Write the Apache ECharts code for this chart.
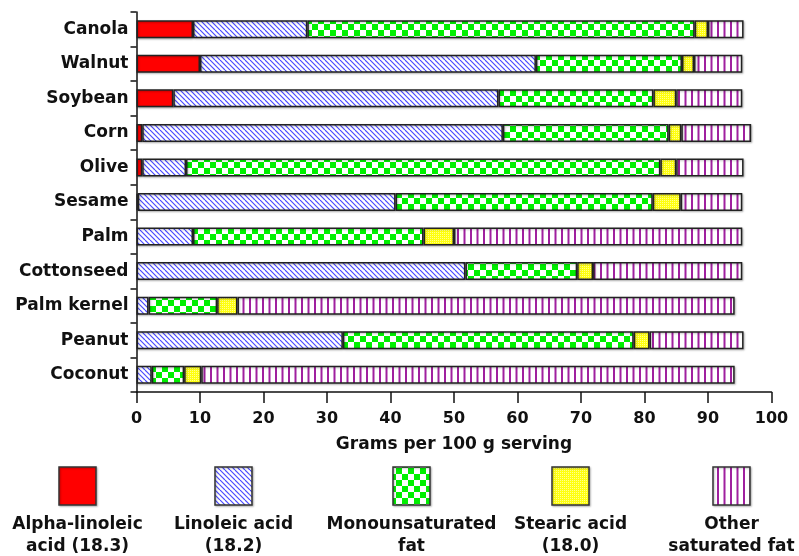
<!DOCTYPE html>
<html>
<head>
<meta charset="utf-8">
<script src="https://cdn.jsdelivr.net/npm/echarts@6/dist/echarts.min.js"></script>
<style>html,body{margin:0;padding:0;background:#fff}#c{width:799px;height:556px}</style>
</head>
<body>
<div id="c"></div>
<script>
// ---- data ----
var categories = ['Canola','Walnut','Soybean','Corn','Olive','Sesame','Palm','Cottonseed','Palm kernel','Peanut','Coconut'];
var alphaLinolenic = [8.9, 10.0, 5.8, 0.9, 0.9, 0.2, 0, 0, 0, 0, 0];
var linoleic       = [18.0, 52.9, 51.2, 56.8, 6.9, 40.6, 8.9, 51.8, 1.9, 32.5, 2.4];
var monounsat      = [61.0, 23.0, 24.4, 26.1, 74.7, 40.5, 36.3, 17.6, 10.8, 45.8, 5.1];
var stearic        = [2.1, 1.9, 3.6, 2.0, 2.5, 4.4, 4.8, 2.5, 3.2, 2.5, 2.7];
var otherSat       = [5.6, 7.6, 10.4, 11.0, 10.6, 9.7, 45.4, 23.5, 78.3, 14.8, 84.0];
var seriesNames = ['Alpha-linoleic\nacid (18.3)', 'Linoleic acid\n(18.2)', 'Monounsaturated\nfat', 'Stearic acid\n(18.0)', 'Other\nsaturated fat'];
var xTicks = [0,10,20,30,40,50,60,70,80,90,100];

var FONT = 'DejaVu Sans';
var FS = 17;

// ---- patterns ----
function mk(w, h, draw) {
  var c = document.createElement('canvas'); c.width = w; c.height = h;
  var g = c.getContext('2d'); draw(g, w, h);
  return { image: c, repeat: 'repeat' };
}
var patRed = '#ff0000';
var patBlue = mk(10, 10, function (g, w, h) {
  g.fillStyle = '#ffffff'; g.fillRect(0, 0, w, h);
  g.strokeStyle = '#4a4aff'; g.lineWidth = 1.2;
  for (var x = -10; x <= 10; x += 5) { g.beginPath(); g.moveTo(x, 0); g.lineTo(x + 10, 10); g.stroke(); }
});
var patGreen = mk(12, 12, function (g) {
  g.fillStyle = '#ffffff'; g.fillRect(0, 0, 12, 12);
  g.fillStyle = '#00f000'; g.fillRect(0, 0, 6, 6); g.fillRect(6, 6, 6, 6);
});
var patYellow = mk(2, 2, function (g) {
  g.fillStyle = '#ffff10'; g.fillRect(0, 0, 2, 2);
  g.fillStyle = '#ffff90'; g.fillRect(0, 0, 1, 1);
});
var patPurple = mk(13, 4, function (g) {
  g.fillStyle = '#ffffff'; g.fillRect(0, 0, 13, 4);
  g.fillStyle = '#a0209f'; g.fillRect(2, 0, 2, 4); g.fillRect(8.5, 0, 2, 4);
});
var fills = [patRed, patBlue, patGreen, patYellow, patPurple];
var seriesData = [alphaLinolenic, linoleic, monounsat, stearic, otherSat];

var series = seriesData.map(function (arr, i) {
  return {
    name: seriesNames[i], type: 'bar', stack: 'fat', barWidth: 18,
    data: arr.map(function (v) { return v === 0 ? '-' : v; }),
    itemStyle: { color: fills[i], borderColor: '#222', borderWidth: 1.5,
      shadowColor: 'rgba(0,0,0,0.25)', shadowBlur: 2, shadowOffsetX: 1, shadowOffsetY: 1 },
    emphasis: { disabled: true }, animation: false
  };
});

// ---- legend drawn as graphic ----
var legCenters = [77.5, 233.5, 411.5, 570.5, 731.5];
var graphics = [];
legCenters.forEach(function (cx, i) {
  graphics.push({ type: 'rect', shape: { x: cx - 18.5, y: 467, width: 37, height: 38 },
    style: { fill: fills[i], stroke: '#333', lineWidth: 1.5,
      shadowColor: 'rgba(0,0,0,0.25)', shadowBlur: 2, shadowOffsetX: 1, shadowOffsetY: 1 } });
  graphics.push({ type: 'text', x: cx, y: 514,
    style: { text: seriesNames[i], align: 'center', verticalAlign: 'top', font: 'bold ' + FS + 'px ' + FONT, lineHeight: 22, fill: '#111' } });
});

var chart = echarts.init(document.getElementById('c'), null, { renderer: 'canvas' });
chart.setOption({
  animation: false,
  grid: { left: 136.5, right: 27.5, top: 12, bottom: 164 },
  xAxis: {
    type: 'value', min: 0, max: 100, interval: 10,
    name: 'Grams per 100 g serving', nameLocation: 'middle', nameGap: 44,
    nameTextStyle: { fontFamily: FONT, fontWeight: 'bold', fontSize: FS, color: '#111' },
    axisLine: { show: true, lineStyle: { color: '#111', width: 1.5 } },
    axisTick: { show: true, length: 11, lineStyle: { color: '#111', width: 1.5 } },
    axisLabel: { margin: 19, fontFamily: FONT, fontWeight: 'bold', fontSize: 16, color: '#111',
      formatter: function (v) { return xTicks.indexOf(v) >= 0 ? String(v) : ''; } },
    splitLine: { show: false }
  },
  yAxis: {
    type: 'category', data: categories, inverse: true,
    axisLine: { show: true, lineStyle: { color: '#111', width: 1.5 } },
    axisTick: { show: true, length: 6, lineStyle: { color: '#111', width: 1.5 } },
    axisLabel: { margin: 8, fontFamily: FONT, fontWeight: 'bold', fontSize: FS, color: '#111' }
  },
  series: series,
  graphic: graphics
});
</script>
</body>
</html>
